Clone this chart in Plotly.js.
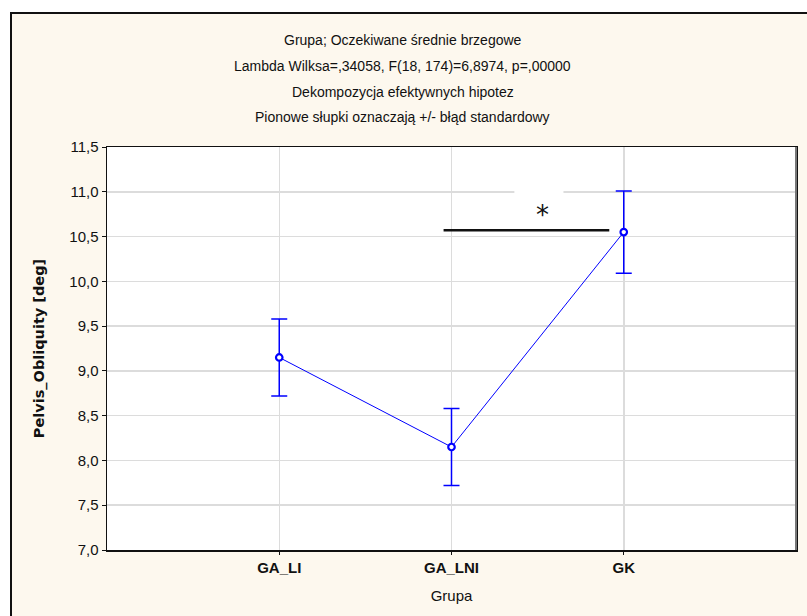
<!DOCTYPE html>
<html>
<head>
<meta charset="utf-8">
<script src="https://cdn.plot.ly/plotly-3.0.1.min.js"></script>
<style>
  html, body { margin: 0; padding: 0; background: #ffffff; overflow: hidden; }
  #frame { position: absolute; left: 10px; top: 12px; width: 820px; height: 640px;
           background: #FDF8EE; border-left: 2px solid #111; border-top: 2px solid #111; }
  #chart { position: absolute; left: 0; top: 0; width: 807px; height: 616px; }
</style>
</head>
<body>
<div id="frame"></div>
<div id="chart"></div>
<script>
// ---- data ----
const groups = ['GA_LI', 'GA_LNI', 'GK'];
const means = [9.15, 8.15, 10.55];
const stdErr = [0.43, 0.43, 0.46];
const yTicks = [7.0, 7.5, 8.0, 8.5, 9.0, 9.5, 10.0, 10.5, 11.0, 11.5];
const titleLines = [
  'Grupa; Oczekiwane średnie brzegowe',
  'Lambda Wilksa=,34058, F(18, 174)=6,8974, p=,00000',
  'Dekompozycja efektywnych hipotez',
  'Pionowe słupki oznaczają +/- błąd standardowy'
];
const xTitle = 'Grupa';
const yTitle = 'Pelvis_Obliquity [deg]';
// significance bracket between GA_LNI and GK (category-index coordinates)
const sigX = [0.954, 1.916];
const sigY = 10.57;
const sigMark = '*';
const sigMarkPos = [1.53, 10.74];

const blue = '#0000FF';

const trace = {
  type: 'scatter',
  mode: 'lines+markers',
  x: groups,
  y: means,
  line: { color: blue, width: 1 },
  marker: { symbol: 'circle', size: 6.5, color: '#ffffff', line: { color: blue, width: 2.2 } },
  error_y: { type: 'data', array: stdErr, visible: true, color: blue, thickness: 1.5, width: 8 },
  hoverinfo: 'x+y',
  showlegend: false
};

const titleY = [1.2655, 1.201, 1.1365, 1.0744];
const annotations = titleLines.map((t, i) => ({
  text: t, xref: 'paper', yref: 'paper', x: 0.4296, y: titleY[i],
  xanchor: 'center', yanchor: 'middle', showarrow: false,
  font: { family: 'Arial, Liberation Sans', size: 14, color: '#111' }
}));
annotations.push({
  text: sigMark, xref: 'x', yref: 'y', x: sigMarkPos[0], y: sigMarkPos[1],
  xanchor: 'center', yanchor: 'middle', showarrow: false,
  font: { family: 'DejaVu Sans', size: 26, color: '#111' }
});

const shapes = [
  // white patch behind the asterisk (interrupts the 11,0 gridline)
  { type: 'rect', xref: 'x', yref: 'y', x0: 1.53 - 0.165, x1: 1.53 + 0.12,
    y0: sigY + 0.2, y1: 11.06, fillcolor: '#ffffff', line: { width: 0 }, layer: 'between' },
  // significance bracket
  { type: 'line', xref: 'x', yref: 'y', x0: sigX[0], x1: sigX[1], y0: sigY, y1: sigY,
    line: { color: '#111', width: 2.5 } },
  // grey right edge of plot area
  { type: 'line', xref: 'paper', yref: 'paper', x0: 1, x1: 1, y0: 0, y1: 1,
    line: { color: '#777', width: 2 } }
];

const layout = {
  width: 807, height: 616,
  margin: { l: 107, r: 11, t: 147, b: 66, pad: 0 },
  paper_bgcolor: 'rgba(0,0,0,0)',
  plot_bgcolor: '#ffffff',
  separators: ', ',
  showlegend: false,
  font: { family: 'Arial, Liberation Sans', color: '#111' },
  xaxis: {
    type: 'category', range: [-1, 3],
    showgrid: true, gridcolor: '#dcdcdc', gridwidth: 1.5,
    showline: true, linecolor: '#111', linewidth: 1.5, mirror: true,
    ticks: 'outside', ticklen: 3, tickcolor: '#111',
    tickfont: { family: 'Arial, Liberation Sans', size: 15, weight: 'bold', color: '#111' },
    title: { text: xTitle, standoff: 16, font: { family: 'Arial, Liberation Sans', size: 15, color: '#111' } },
    zeroline: false, automargin: false
  },
  yaxis: {
    range: [7, 11.5], tickvals: yTicks, tickformat: '.1f',
    showgrid: true, gridcolor: '#dcdcdc', gridwidth: 1.5,
    showline: true, linecolor: '#111', linewidth: 1.5, mirror: true,
    ticks: 'outside', ticklen: 4, tickcolor: '#111',
    tickfont: { family: 'Arial, Liberation Sans', size: 15, color: '#111' },
    title: { text: yTitle, standoff: 21, font: { family: 'DejaVu Sans', size: 14.5, weight: 'bold', color: '#111' } },
    zeroline: false, automargin: false
  },
  annotations: annotations,
  shapes: shapes
};

Plotly.newPlot('chart', [trace], layout, { displayModeBar: false, staticPlot: true });
</script>
</body>
</html>
